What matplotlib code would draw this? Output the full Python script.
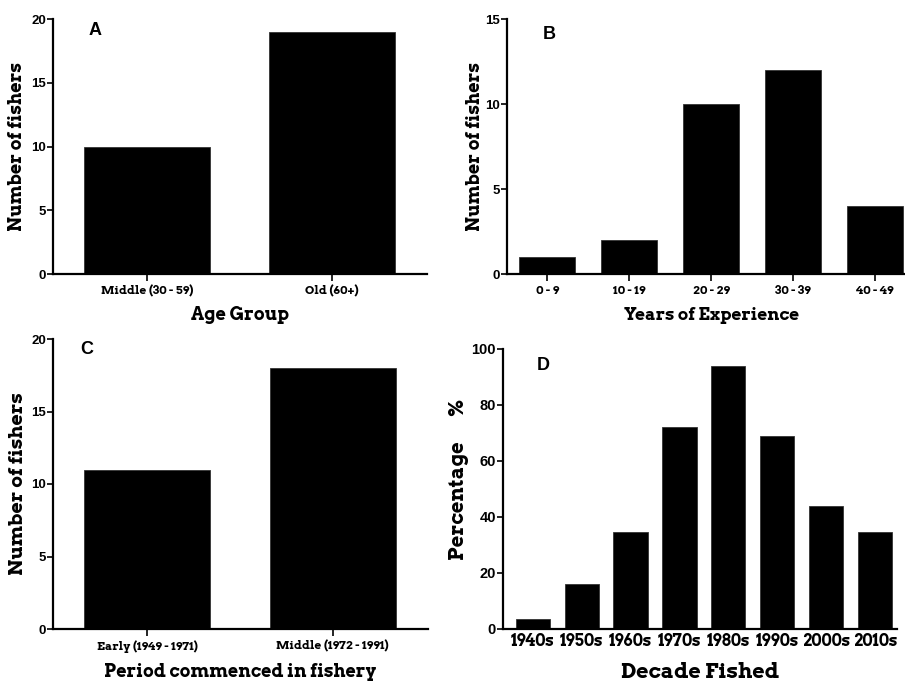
import matplotlib
matplotlib.use("Agg")
import matplotlib.pyplot as plt

# panel data
age_groups = ["Middle (30 - 59)", "Old (60+)"]
age_counts = [10, 19]

experience = ["0 - 9", "10 - 19", "20 - 29", "30 - 39", "40 - 49"]
experience_counts = [1, 2, 10, 12, 4]

periods = ["Early (1949 - 1971)", "Middle (1972 - 1991)"]
period_counts = [11, 18]

decades = ["1940s", "1950s", "1960s", "1970s", "1980s", "1990s", "2000s", "2010s"]
decade_pct = [3.5, 16, 34.8, 72.1, 94, 69, 44, 34.8]

W, H = 905, 684
SLAB = ["Arvo", "DejaVu Serif"]
SANS = ["Liberation Sans", "DejaVu Sans"]

fig = plt.figure(figsize=(W / 100, H / 100), dpi=100)


def make_axes(left, top, right, bottom):
    return fig.add_axes([left / W, 1 - bottom / H, (right - left) / W, (bottom - top) / H])


def style(ax, cats, vals, ymax, ystep, xlim, width, letter, letter_xy,
          ylabel, xlabel, ylab_xy, xlab_y, tick_fs, xtick_fs, lab_fs, xlab_fs, xtick_len=5):
    x = range(len(cats))
    ax.bar(x, vals, width=width, color="black", edgecolor="#333333", linewidth=0.6)
    ax.set_xlim(*xlim)
    ax.set_ylim(0, ymax)
    ax.set_yticks(range(0, ymax + 1, ystep))
    ax.set_xticks(list(x))
    ax.set_xticklabels(cats, fontfamily=SLAB, fontweight="bold", fontsize=xtick_fs)
    for t in ax.get_yticklabels():
        t.set_fontfamily(SANS)
        t.set_fontweight("bold")
        t.set_fontsize(tick_fs)
    for s in ("top", "right"):
        ax.spines[s].set_visible(False)
    for s in ("left", "bottom"):
        ax.spines[s].set_linewidth(1.6)
    ax.tick_params(axis="y", length=4, width=1.2, pad=1)
    ax.tick_params(axis="x", length=xtick_len, width=1.2, pad=3)
    ax.set_ylabel(ylabel, fontfamily=SLAB, fontweight="bold", fontsize=lab_fs, va="center")
    ax.yaxis.set_label_coords(*ylab_xy)
    ax.set_xlabel(xlabel, fontfamily=SLAB, fontweight="bold", fontsize=xlab_fs, va="center")
    ax.xaxis.set_label_coords(0.5, xlab_y)
    ax.text(letter_xy[0], letter_xy[1], letter, transform=ax.transAxes,
            fontfamily=SANS, fontweight="bold", fontsize=13, va="center", ha="left")


axA = make_axes(53, 19, 427, 274)
style(axA, age_groups, age_counts, 20, 5, (-0.508, 1.514), 0.68, "A", (0.095, 0.955),
      "Number of fishers", "Age Group", (-0.096, 0.5), -0.161, 9.5, 8.5, 13, 13)

axB = make_axes(507, 19, 916, 274)
style(axB, experience, experience_counts, 15, 5, (-0.49, 4.5), 0.68, "B", (0.088, 0.94),
      "Number of fishers", "Years of Experience", (-0.078, 0.5), -0.161, 9.5, 8.5, 13, 12.3)

axC = make_axes(53, 339, 428, 629)
style(axC, periods, period_counts, 20, 5, (-0.508, 1.514), 0.68, "C", (0.073, 0.965),
      "Number of fishers", "Period commenced in fishery", (-0.093, 0.5), -0.148, 9.5, 8.5, 14, 12.8)

axD = make_axes(503, 349, 897, 629)
style(axD, decades, decade_pct, 100, 20, (-0.61, 7.45), 0.70, "D", (0.085, 0.94),
      "Percentage      %", "Decade Fished", (-0.114, 0.535), -0.157, 10.5, 11.5, 14.5, 15.3,
      xtick_len=0)

fig.savefig("out.png", dpi=100)
